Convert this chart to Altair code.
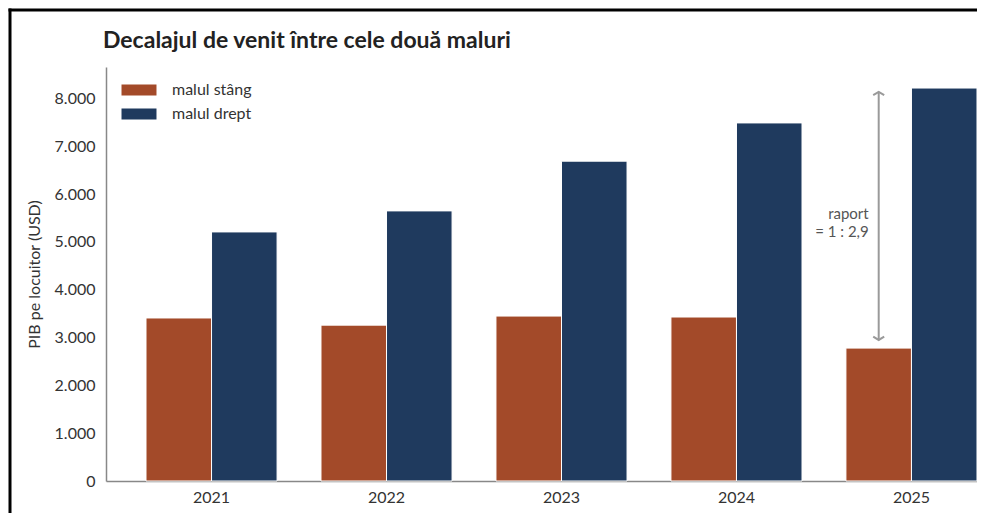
import altair as alt
import pandas as pd

# ---- data ----
years = ["2021", "2022", "2023", "2024", "2025"]
malul_stang = [3410, 3260, 3450, 3430, 2780]
malul_drept = [5210, 5650, 6690, 7490, 8220]
series = ["malul stâng", "malul drept"]
colors = ["#A34A29", "#1F3A5E"]
y_ticks = [0, 1000, 2000, 3000, 4000, 5000, 6000, 7000, 8000]
title_text = "Decalajul de venit între cele două maluri"
y_title = "PIB pe locuitor (USD)"

arrow_year = "2025"
arrow_from = 2950
arrow_to = 8140
label_value = 5590
annotation_text = "raport\n= 1 : 2,9"

FONT = "Lato"

df = pd.DataFrame({
    "year": years * 2,
    "series": [series[0]] * len(years) + [series[1]] * len(years),
    "value": malul_stang + malul_drept,
})

ann = pd.DataFrame({
    "year": [arrow_year],
    "series": [series[0]],
    "y1": [arrow_from],
    "y2": [arrow_to],
    "ty": [label_value],
    "txt": [annotation_text],
})

frame_df = pd.DataFrame({"k": [0]})

x_scale = alt.Scale(range=[0, 911], paddingInner=0.251, paddingOuter=0.2286)
y_scale = alt.Scale(domain=[0, 8660], nice=False)
xoff_scale = alt.Scale(domain=series)

x_enc = alt.X(
    "year:N", title=None, scale=x_scale,
    axis=alt.Axis(labelAngle=0, ticks=False, tickSize=0, labelPadding=8,
                  labelFontSize=16, labelFont=FONT, labelColor="#333",
                  domainColor="#888", domainWidth=1.5, grid=False),
)

bars = alt.Chart(df).mark_bar(stroke="white", strokeWidth=1).encode(
    x=x_enc,
    xOffset=alt.XOffset("series:N", scale=xoff_scale),
    y=alt.Y(
        "value:Q", scale=y_scale,
        axis=alt.Axis(
            title=y_title, values=y_ticks,
            labelExpr="replace(format(datum.value, ',d'), ',', '.')",
            ticks=False, tickSize=0, labelPadding=11,
            labelFontSize=16, labelFont=FONT, labelColor="#333",
            domainColor="#888", domainWidth=1.5, grid=False,
            titleFontSize=16, titleFont=FONT, titleFontWeight="normal",
            titleColor="#333", titlePadding=12,
        ),
    ),
    color=alt.Color(
        "series:N",
        scale=alt.Scale(domain=series, range=colors),
        legend=alt.Legend(
            title=None, orient="none", legendX=25, legendY=15,
            symbolType="M-3.18,-1L3.18,-1L3.18,1L-3.18,1Z",
            symbolSize=121, symbolStrokeWidth=0, symbolOpacity=1,
            labelFontSize=16, labelFont=FONT, labelColor="#333",
            labelOffset=25, rowPadding=8, padding=0,
        ),
    ),
)

common = dict(x=alt.X("year:N"), xOffset=alt.XOffset("series:N", scale=xoff_scale))

rule = alt.Chart(ann).mark_rule(color="#9a9a9a", strokeWidth=2).encode(
    y=alt.Y("y1:Q"), y2="y2:Q", **common
)
head_up = alt.Chart(ann).mark_point(
    shape="M-1,0.6L0,0L1,0.6", filled=False, size=121,
    color="#9a9a9a", strokeWidth=2, opacity=1,
).encode(y=alt.Y("y2:Q"), **common)
head_down = alt.Chart(ann).mark_point(
    shape="M-1,-0.6L0,0L1,-0.6", filled=False, size=121,
    color="#9a9a9a", strokeWidth=2, opacity=1,
).encode(y=alt.Y("y1:Q"), **common)
label = alt.Chart(ann).mark_text(
    align="right", dx=-10, baseline="middle", lineBreak="\n",
    fontSize=15, font=FONT, color="#555", lineHeight=18,
).encode(y=alt.Y("ty:Q"), text="txt:N", **common)

frame_left = alt.Chart(frame_df).mark_rule(color="black", strokeWidth=3).encode(
    x=alt.value(-96), y=alt.value(-58.5), y2=alt.value(700)
)
frame_top = alt.Chart(frame_df).mark_rule(color="black", strokeWidth=3).encode(
    y=alt.value(-57), x=alt.value(-97.5), x2=alt.value(871)
)

chart = alt.layer(
    bars, rule, head_up, head_down, label, frame_left, frame_top
).properties(
    width=871,
    height=414,
    background="white",
    autosize=alt.AutoSizeParams(type="none"),
    padding={"left": 98, "top": 59, "right": 0, "bottom": 32},
    title=alt.TitleParams(
        title_text, anchor="start", frame="group", fontSize=23, font=FONT,
        fontWeight="bold", color="#222", offset=-46, dx=-3,
    ),
).configure_view(strokeWidth=0)

chart.save("out.html", embed_options={"renderer": "svg", "actions": False})
